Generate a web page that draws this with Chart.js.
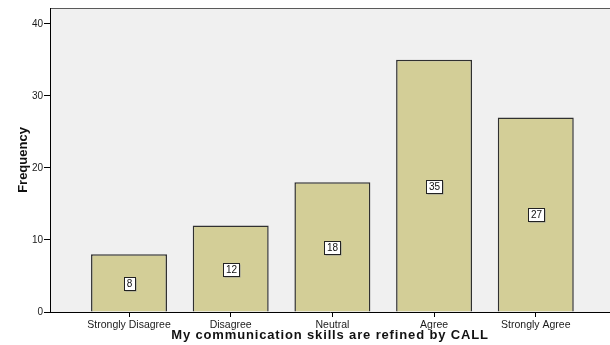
<!DOCTYPE html>
<html>
<head>
<meta charset="utf-8">
<script src="https://cdn.jsdelivr.net/npm/chart.js@4/dist/chart.umd.min.js"></script>
<style>
  html, body { margin: 0; padding: 0; background: #ffffff; overflow: hidden; }
  #wrap { width: 610px; height: 345px; position: relative; }
</style>
</head>
<body>
<div id="wrap"><canvas id="c" width="610" height="345"></canvas></div>
<script>
// Response categories and their counts
const categories = ['Strongly Disagree', 'Disagree', 'Neutral', 'Agree', 'Strongly Agree'];
const frequencies = [8, 12, 18, 35, 27];
const yTicks = [0, 10, 20, 30, 40];
const xTitle = 'My communication skills are refined by CALL';
const yTitle = 'Frequency';

const FONT = "'Liberation Sans', Arial, sans-serif";

// Light grey plot panel with a thin top rule
const panel = {
  id: 'panel',
  beforeDraw(chart) {
    const { ctx, chartArea: a } = chart;
    ctx.save();
    ctx.fillStyle = '#f0f0f0';
    ctx.fillRect(a.left, a.top, a.right - a.left, a.bottom - a.top);
    ctx.strokeStyle = '#5a5a5a';
    ctx.lineWidth = 1;
    ctx.beginPath();
    ctx.moveTo(a.left, Math.round(a.top) + 0.5);
    ctx.lineTo(a.right, Math.round(a.top) + 0.5);
    ctx.stroke();
    ctx.restore();
  }
};

// Boxed count label in the middle of each bar
const countLabels = {
  id: 'countLabels',
  afterDatasetsDraw(chart) {
    const { ctx } = chart;
    const meta = chart.getDatasetMeta(0);
    ctx.save();
    ctx.font = '10px ' + FONT;
    ctx.textAlign = 'center';
    ctx.textBaseline = 'middle';
    meta.data.forEach((bar, i) => {
      const text = String(frequencies[i]);
      const cx = Math.round(bar.x);
      const cy = Math.round((bar.y + bar.base) / 2);
      const w = Math.round(ctx.measureText(text).width) + 5;
      const h = 13;
      const x0 = Math.round(cx - w / 2) + 0.5;
      const y0 = Math.round(cy - h / 2) + 0.5;
      ctx.fillStyle = '#9a9a9a';
      ctx.fillRect(x0 + 1, y0 + 1, w, h);
      ctx.fillStyle = '#ffffff';
      ctx.fillRect(x0, y0, w, h);
      ctx.strokeStyle = '#222222';
      ctx.lineWidth = 1;
      ctx.strokeRect(x0, y0, w, h);
      ctx.fillStyle = '#111111';
      ctx.fillText(text, cx + 0.5, cy + 1);
    });
    ctx.restore();
  }
};

// Horizontal axis title, slightly letter-spaced
const xAxisTitle = {
  id: 'xAxisTitle',
  afterDraw(chart) {
    const { ctx, chartArea: a } = chart;
    ctx.save();
    ctx.font = 'bold 13px ' + FONT;
    ctx.letterSpacing = '0.85px';
    ctx.fillStyle = '#111111';
    ctx.textAlign = 'center';
    ctx.textBaseline = 'middle';
    ctx.fillText(xTitle, (a.left + a.right) / 2, 335.5);
    ctx.restore();
  }
};

new Chart(document.getElementById('c'), {
  type: 'bar',
  data: {
    datasets: [{
      data: frequencies.map((v, i) => ({ x: i, y: v })),
      backgroundColor: '#d3ce97',
      borderColor: '#303030',
      borderWidth: 1.5,
      categoryPercentage: 1,
      barPercentage: 0.747
    }]
  },
  options: {
    responsive: false,
    animation: false,
    devicePixelRatio: 1,
    layout: { padding: { top: 8, right: 0, bottom: 0, left: 0 } },
    plugins: { legend: { display: false }, tooltip: { enabled: false } },
    scales: {
      x: {
        type: 'linear',
        offset: false,
        min: -0.777,
        max: 4.73,
        afterBuildTicks(scale) { scale.ticks = categories.map((_, i) => ({ value: i })); },
        afterFit(scale) { scale.height = 33; },
        grid: { offset: false, drawOnChartArea: false, drawTicks: true, tickLength: 5, color: '#000000' },
        border: { display: true, color: '#000000', width: 1 },
        ticks: {
          autoSkip: false,
          maxRotation: 0,
          padding: 2,
          color: '#1a1a1a',
          font: { family: FONT, size: 10.5 },
          callback: (v) => categories[v]
        },
        title: { display: false }
      },
      y: {
        min: 0,
        max: 42.2,
        afterBuildTicks(scale) { scale.ticks = yTicks.map(v => ({ value: v })); },
        afterFit(scale) { scale.width = 50; },
        grid: { drawOnChartArea: false, drawTicks: true, tickLength: 6, color: '#000000' },
        border: { display: true, color: '#000000', width: 1 },
        ticks: {
          padding: 1,
          color: '#1a1a1a',
          font: { family: FONT, size: 10 }
        },
        title: {
          display: true,
          text: yTitle,
          color: '#111111',
          font: { family: FONT, size: 13, weight: 'bold' },
          padding: { top: 16, bottom: 0 }
        }
      }
    }
  },
  plugins: [panel, countLabels, xAxisTitle]
});
</script>
</body>
</html>
